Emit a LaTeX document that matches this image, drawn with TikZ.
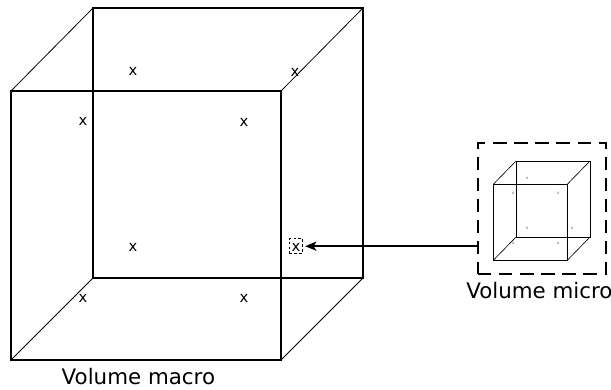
\documentclass[tikz,border=0pt]{standalone}
\usepackage{fontspec}
\setmainfont{DejaVu Sans}
\usetikzlibrary{arrows.meta, positioning}
\tikzset{
    gausspt/.style={inner sep=0pt, font=\fontsize{10.5}{11}\selectfont},
    tinypt/.style={inner sep=0pt, font=\fontsize{3}{3}\selectfont, text=black!60},
    caption/.style={inner sep=0pt, font=\fontsize{15.2}{17}\selectfont},
    frontedge/.style={draw, line width=0.95pt},
    backedge/.style={draw, line width=0.8pt},
    sideedge/.style={draw, line width=0.55pt},
    microfront/.style={draw, line width=0.65pt},
    microside/.style={draw, line width=0.45pt},
    window/.style={rectangle, draw, dashed, inner sep=0pt},
    line/.style={draw, -{Stealth[length=8pt, width=6.5pt, inset=2pt]}, line width=1pt, shorten >=1.5pt},
}
\begin{document}
\begin{tikzpicture}
    \useasboundingbox (0, 0) rectangle (15.275, 9.725);

    % Macro volume, front face
    \coordinate (mac_fa) at (0.275, 7.45);
    \coordinate (mac_fb) at (7.025, 7.45);
    \coordinate (mac_fc) at (7.025, 0.725);
    \coordinate (mac_fd) at (0.275, 0.725);
    % Macro volume, back face
    \coordinate (mac_ba) at (2.325, 9.525);
    \coordinate (mac_bb) at (9.075, 9.525);
    \coordinate (mac_bc) at (9.075, 2.775);
    \coordinate (mac_bd) at (2.325, 2.775);

    \draw[sideedge] (mac_fa) -- (mac_ba);
    \draw[sideedge] (mac_fb) -- (mac_bb);
    \draw[sideedge] (mac_fc) -- (mac_bc);
    \draw[sideedge] (mac_fd) -- (mac_bd);
    \draw[backedge] (mac_ba) -- (mac_bb) -- (mac_bc) -- (mac_bd) -- cycle;
    \draw[frontedge] (mac_fa) -- (mac_fb) -- (mac_fc) -- (mac_fd) -- cycle;

    % Points of the macro volume
    \node[gausspt] (mac_p1) at (3.325, 7.93) {x};
    \node[gausspt] (mac_p2) at (7.375, 7.905) {x};
    \node[gausspt] (mac_p3) at (2.075, 6.68) {x};
    \node[gausspt] (mac_p4) at (6.1, 6.655) {x};
    \node[gausspt] (mac_p5) at (3.325, 3.53) {x};
    \node[gausspt] (mac_p6) at (7.4, 3.53) {x};
    \node[gausspt] (mac_p7) at (2.075, 2.255) {x};
    \node[gausspt] (mac_p8) at (6.1, 2.255) {x};

    \node[window, dash pattern=on 2pt off 1.5pt, line width=0.7pt, minimum width=0.33cm, minimum height=0.375cm] (spot) at (7.4, 3.57) {};

    \node[caption] (mac_label) at (3.46, 0.31) {Volume macro};

    % Micro volume
    \node[window, line width=0.95pt, dash pattern=on 9.5pt off 5.5pt, minimum width=3.2cm, minimum height=3.275cm] (micro) at (13.55, 4.51) {};

    \coordinate (mic_fa) at (12.34, 5.125);
    \coordinate (mic_fb) at (14.19, 5.125);
    \coordinate (mic_fc) at (14.19, 3.225);
    \coordinate (mic_fd) at (12.34, 3.225);
    \coordinate (mic_ba) at (12.9, 5.7);
    \coordinate (mic_bb) at (14.75, 5.7);
    \coordinate (mic_bc) at (14.75, 3.8);
    \coordinate (mic_bd) at (12.9, 3.8);

    \draw[microside] (mic_fa) -- (mic_ba);
    \draw[microside] (mic_fb) -- (mic_bb);
    \draw[microside] (mic_fc) -- (mic_bc);
    \draw[microside] (mic_fd) -- (mic_bd);
    \draw[microfront] (mic_ba) -- (mic_bb) -- (mic_bc) -- (mic_bd) -- cycle;
    \draw[microfront] (mic_fa) -- (mic_fb) -- (mic_fc) -- (mic_fd) -- cycle;

    % Points of the micro volume
    \node[tinypt] (mic_p1) at (13.175, 5.275) {x};
    \node[tinypt] (mic_p2) at (14.3, 5.25) {x};
    \node[tinypt] (mic_p3) at (12.825, 4.9) {x};
    \node[tinypt] (mic_p4) at (13.95, 4.9) {x};
    \node[tinypt] (mic_p5) at (13.175, 4.025) {x};
    \node[tinypt] (mic_p6) at (14.3, 4.025) {x};
    \node[tinypt] (mic_p7) at (12.825, 3.65) {x};
    \node[tinypt] (mic_p8) at (13.95, 3.65) {x};

    \node[caption, anchor=west] (mic_label) at (11.65, 2.47) {Volume micro};

    % Link between the scales
    \path[line] (micro.west |- spot) -- (spot);

\end{tikzpicture}
\end{document}
